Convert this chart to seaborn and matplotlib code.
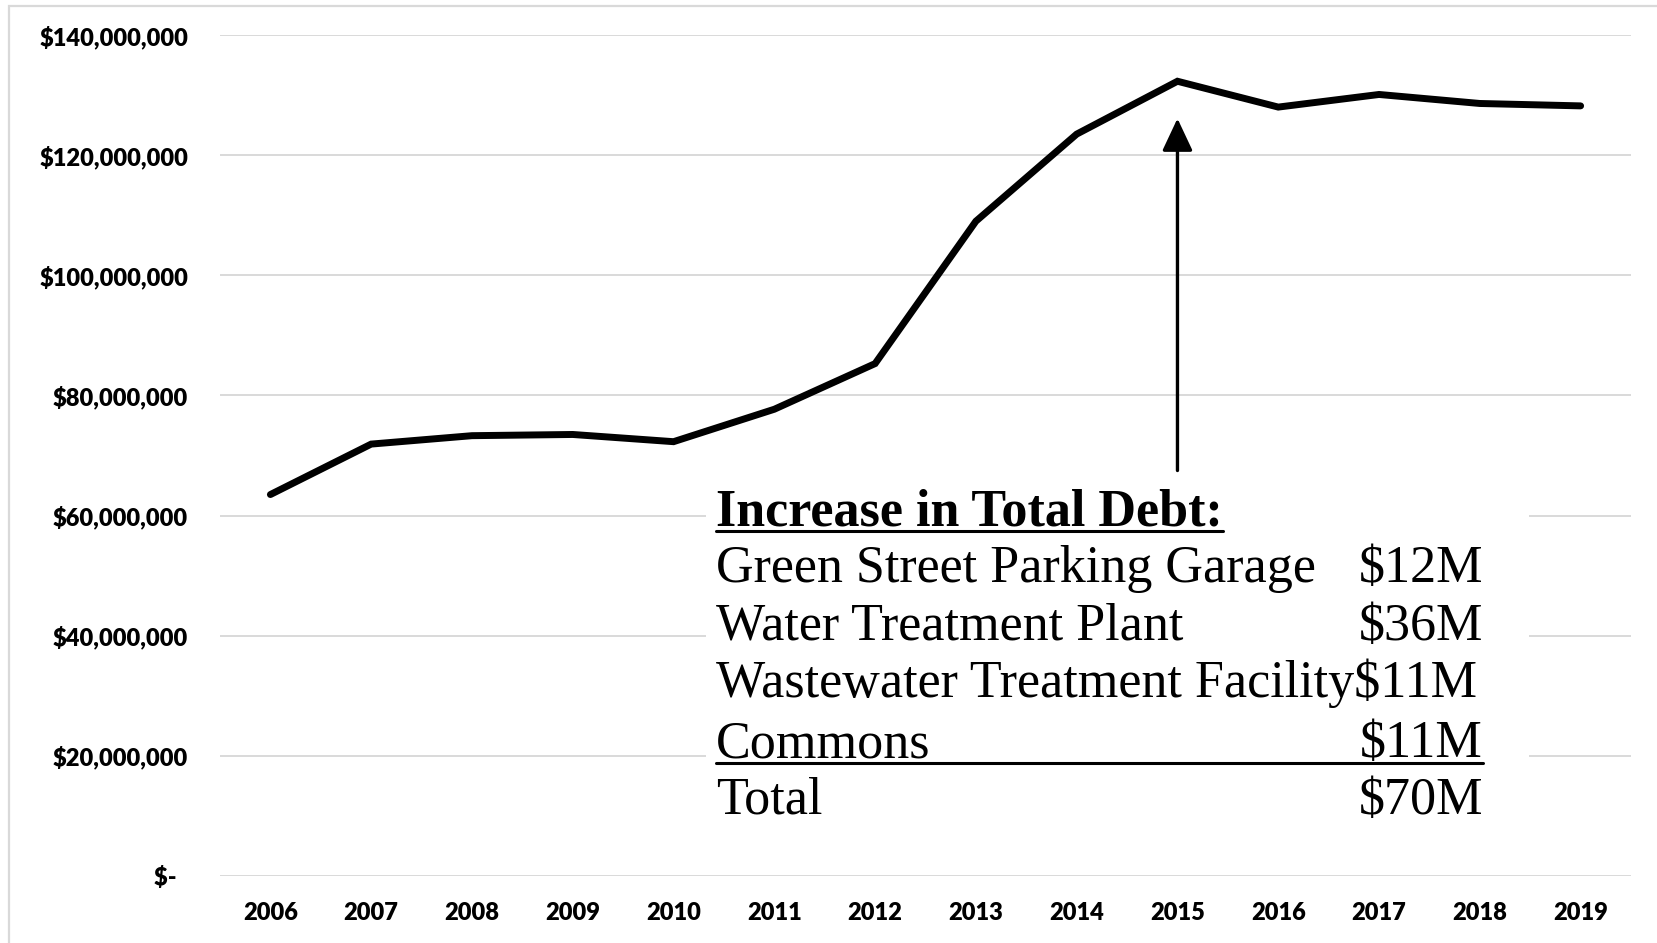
import numpy as np
import pandas as pd
import matplotlib.pyplot as plt
import matplotlib.patches as patches
from matplotlib.lines import Line2D
import seaborn as sns

# total debt by year
years = ['2006', '2007', '2008', '2009', '2010', '2011', '2012',
         '2013', '2014', '2015', '2016', '2017', '2018', '2019']
debt = [63.5e6, 71.9e6, 73.3e6, 73.5e6, 72.3e6, 77.7e6, 85.3e6,
        109.0e6, 123.5e6, 132.3e6, 128.0e6, 130.1e6, 128.6e6, 128.2e6]

y_ticks = [0, 20e6, 40e6, 60e6, 80e6, 100e6, 120e6, 140e6]
y_tick_labels = ['$-  ', '$20,000,000', '$40,000,000', '$60,000,000',
                 '$80,000,000', '$100,000,000', '$120,000,000', '$140,000,000']

# annotation table
box_title = 'Increase in Total Debt:'
projects = ['Green Street Parking Garage', 'Water Treatment Plant',
            'Wastewater Treatment Facility$11M', 'Commons', 'Total']
amounts = ['$12M', '$36M', '', '$11M', '$70M']

arrow_year = '2015'
arrow_tip, arrow_tail = 126.1e6, 67.5e6

sns.set_style('white')
plt.rcParams['font.family'] = ['Lato', 'DejaVu Sans']
plt.rcParams['text.color'] = 'black'
plt.rcParams['xtick.color'] = 'black'
plt.rcParams['ytick.color'] = 'black'

W, H = 1657, 943
fig = plt.figure(figsize=(W / 100, H / 100), dpi=100)
ax = fig.add_axes([220 / W, 1 - 876 / H, (1631 - 220) / W, (876 - 35) / H])

df = pd.DataFrame({'year': years, 'debt': debt})
sns.lineplot(data=df, x='year', y='debt', ax=ax, color='black',
             linewidth=5.0, solid_capstyle='round', solid_joinstyle='miter',
             zorder=5)

ax.set_xlim(-0.5, len(years) - 0.5)
ax.set_ylim(0, 140e6)
ax.set_yticks(y_ticks)
ax.set_yticklabels(y_tick_labels)
ax.set_xlabel('')
ax.set_ylabel('')
ax.grid(axis='y', color='#d9d9d9', linewidth=1.4)
ax.grid(axis='x', visible=False)
ax.set_axisbelow(True)
for s in ax.spines.values():
    s.set_visible(False)
ax.tick_params(axis='y', length=0, pad=23, labelsize=17, labelcolor='black')
ax.tick_params(axis='x', length=0, pad=19, labelsize=17, labelcolor='black')
for lab in ax.get_xticklabels() + ax.get_yticklabels():
    lab.set_fontweight('heavy')

# arrow pointing at the peak
xi = years.index(arrow_year)
ax.annotate('', xy=(xi, arrow_tip), xytext=(xi, arrow_tail),
            arrowprops=dict(arrowstyle='-|>,head_length=1.0,head_width=0.47',
                            mutation_scale=20, lw=2.4, color='black',
                            shrinkA=0, shrinkB=0), zorder=6)

# white box behind the table
fig.patches.append(patches.Rectangle((706 / W, 1 - 830 / H), (1529 - 706) / W,
                                     (830 - 484) / H, transform=fig.transFigure,
                                     facecolor='white', edgecolor='none', zorder=2))

# outer border
fig.patches.append(patches.Rectangle((9 / W, -0.05), 1.2, 1 - 6 / H + 0.05,
                                     transform=fig.transFigure, facecolor='none',
                                     edgecolor='#d9d9d9', linewidth=1.6, zorder=3))

serif = ['Liberation Serif', 'DejaVu Serif']
fs = 37.5
x_left, x_right = 716 / W, 1483 / W
baselines = [525, 582, 640, 697, 757, 814]

title = fig.text(x_left, 1 - baselines[0] / H, box_title, family=serif,
                 fontsize=fs, fontweight='bold', va='baseline', ha='left',
                 color='black', zorder=4)
for name, amt, b in zip(projects, amounts, baselines[1:]):
    fig.text(x_left, 1 - b / H, name, family=serif, fontsize=fs,
             va='baseline', ha='left', color='black', zorder=4)
    if amt:
        fig.text(x_right, 1 - b / H, amt, family=serif, fontsize=fs,
                 va='baseline', ha='right', color='black', zorder=4)

# underlines
fig.canvas.draw()
r = fig.canvas.get_renderer()
bb = title.get_window_extent(r)
fig.add_artist(Line2D([bb.x0 / W, bb.x1 / W], [1 - 531 / H, 1 - 531 / H],
                      color='black', lw=2.2, transform=fig.transFigure, zorder=4))
fig.add_artist(Line2D([x_left, x_right], [1 - 763 / H, 1 - 763 / H],
                      color='black', lw=2.2, transform=fig.transFigure, zorder=4))

fig.savefig('out.png', dpi=100)
